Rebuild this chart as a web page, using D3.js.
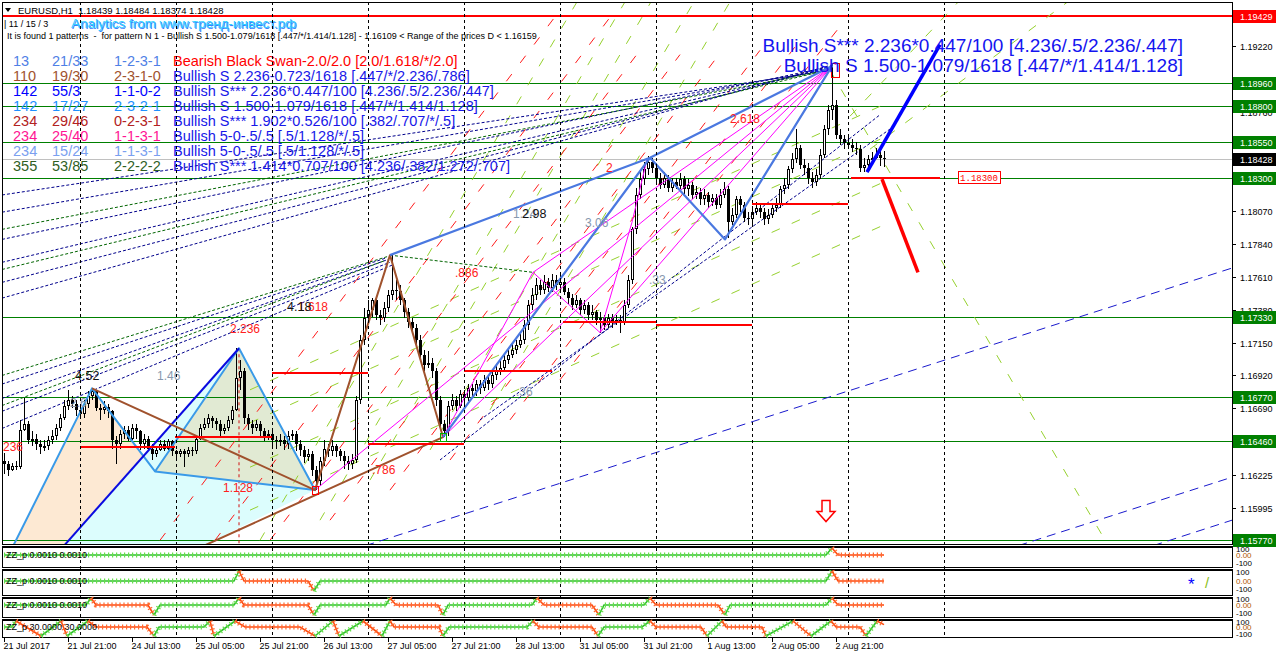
<!DOCTYPE html>
<html>
<head>
<meta charset="utf-8">
<script src="https://cdn.jsdelivr.net/npm/d3@7"></script>
<style>
  body { margin: 0; background: #fff; }
  svg { display: block; font-family: "Liberation Sans", Arial, sans-serif; }
</style>
</head>
<body>
<svg id="chart" width="1276" height="656"></svg>
<script>
// ---- candles (EURUSD H1, bar 0 = 21 Jul 05:00), open = previous close
const firstOpen = 1.1632;
const closes = [
  1.1630,1.1626,1.1629,1.1628,1.1654,1.1658,1.1647,1.1648,1.1644,1.1642,1.1643,1.1647,1.1650,1.1655,1.1662,1.1671,1.1675,1.1672,1.1668,1.1665,
  1.1672,1.1678,1.1681,1.1669,1.1668,1.1670,1.1667,1.1647,1.1644,1.1651,1.1654,1.1648,1.1655,1.1653,1.1644,1.1648,1.1641,1.1637,1.1640,1.1644,
  1.1641,1.1646,1.1639,1.1637,1.1639,1.1637,1.1640,1.1639,1.1648,1.1655,1.1658,1.1662,1.1660,1.1658,1.1653,1.1655,1.1661,1.1668,1.1690,1.1695,
  1.1662,1.1658,1.1655,1.1658,1.1653,1.1650,1.1651,1.1647,1.1646,1.1647,1.1644,1.1650,1.1651,1.1644,1.1640,1.1635,1.1637,1.1626,1.1618,1.1632,
  1.1641,1.1639,1.1643,1.1639,1.1636,1.1632,1.1630,1.1633,1.1675,1.1717,1.1732,1.1738,1.1745,1.1734,1.1732,1.1739,1.1748,1.1752,1.1751,1.1745,
  1.1736,1.1729,1.1725,1.1717,1.1706,1.1699,1.1701,1.1695,1.1675,1.1658,1.1653,1.1671,1.1675,1.1671,1.1679,1.1676,1.1683,1.1681,1.1686,1.1683,
  1.1689,1.1686,1.1692,1.1695,1.1697,1.1703,1.1706,1.1710,1.1713,1.1717,1.1727,1.1741,1.1748,1.1755,1.1752,1.1757,1.1753,1.1759,1.1755,1.1757,
  1.1750,1.1746,1.1741,1.1745,1.1738,1.1741,1.1734,1.1736,1.1731,1.1732,1.1727,1.1732,1.1729,1.1731,1.1729,1.1741,1.1759,1.1794,1.1818,1.1829,
  1.1836,1.1841,1.1837,1.1830,1.1825,1.1830,1.1823,1.1827,1.1824,1.1829,1.1822,1.1825,1.1818,1.1820,1.1815,1.1818,1.1813,1.1816,1.1811,1.1818,
  1.1822,1.1799,1.1804,1.1815,1.1811,1.1802,1.1801,1.1806,1.1809,1.1806,1.1801,1.1804,1.1809,1.1811,1.1822,1.1825,1.1836,1.1843,1.1851,1.1839,
  1.1837,1.1830,1.1827,1.1832,1.1846,1.1864,1.1877,1.1881,1.1860,1.1857,1.1854,1.1853,1.1851,1.1850,1.1837,1.1839,1.1843,1.1844,1.1846,1.18439,
  1.18428
];
const highs = [
  1.1638,1.1632,1.1631,1.1632,1.1661,1.1676,1.1660,1.1653,1.1651,1.1647,1.1647,1.1650,1.1654,1.1658,1.1665,1.1675,1.1682,1.1678,1.1675,1.1671,
  1.1675,1.1681,1.1683,1.1682,1.1672,1.1674,1.1672,1.1668,1.1650,1.1654,1.1657,1.1657,1.1658,1.1658,1.1654,1.1651,1.1650,1.1644,1.1643,1.1647,
  1.1647,1.1648,1.1647,1.1640,1.1641,1.1641,1.1642,1.1642,1.1650,1.1658,1.1662,1.1665,1.1664,1.1662,1.1661,1.1658,1.1664,1.1671,1.1711,1.1703,
  1.1697,1.1665,1.1661,1.1661,1.1660,1.1655,1.1654,1.1653,1.1650,1.1651,1.1650,1.1653,1.1654,1.1653,1.1647,1.1643,1.1641,1.1639,1.1629,1.1635,
  1.1647,1.1644,1.1647,1.1644,1.1641,1.1639,1.1636,1.1637,1.1678,1.1720,1.1739,1.1745,1.1746,1.1746,1.1738,1.1743,1.1752,1.1776,1.1759,1.1755,
  1.1746,1.1739,1.1732,1.1728,1.1720,1.1710,1.1709,1.1704,1.1697,1.1678,1.1661,1.1674,1.1679,1.1678,1.1682,1.1682,1.1686,1.1686,1.1689,1.1689,
  1.1692,1.1692,1.1696,1.1699,1.1702,1.1706,1.1710,1.1714,1.1717,1.1721,1.1731,1.1745,1.1753,1.1760,1.1759,1.1762,1.1760,1.1763,1.1762,1.1762,
  1.1760,1.1753,1.1749,1.1748,1.1746,1.1745,1.1743,1.1741,1.1738,1.1736,1.1734,1.1735,1.1735,1.1734,1.1734,1.1745,1.1762,1.1796,1.1823,1.1834,
  1.1841,1.1845,1.1844,1.1840,1.1833,1.1834,1.1832,1.1830,1.1830,1.1833,1.1831,1.1829,1.1827,1.1824,1.1823,1.1822,1.1820,1.1819,1.1819,1.1822,
  1.1827,1.1824,1.1809,1.1817,1.1817,1.1813,1.1806,1.1810,1.1813,1.1811,1.1809,1.1808,1.1811,1.1816,1.1824,1.1830,1.1838,1.1847,1.1864,1.1853,
  1.1843,1.1840,1.1834,1.1836,1.1850,1.1867,1.1881,1.1909,1.1884,1.1864,1.1860,1.1859,1.1857,1.1855,1.1853,1.1844,1.1846,1.1848,1.1851,1.1850,
  1.18484
];
const lows = [
  1.1623,1.1622,1.1625,1.1626,1.1627,1.1653,1.1644,1.1643,1.1640,1.1637,1.1639,1.1640,1.1644,1.1647,1.1653,1.1661,1.1668,1.1669,1.1664,1.1662,
  1.1662,1.1669,1.1675,1.1667,1.1661,1.1665,1.1662,1.1641,1.1630,1.1641,1.1648,1.1646,1.1647,1.1648,1.1640,1.1641,1.1639,1.1633,1.1635,1.1639,
  1.1639,1.1640,1.1636,1.1633,1.1635,1.1628,1.1635,1.1636,1.1637,1.1647,1.1654,1.1655,1.1655,1.1654,1.1650,1.1651,1.1653,1.1658,1.1667,1.1682,
  1.1658,1.1654,1.1651,1.1653,1.1650,1.1646,1.1647,1.1643,1.1641,1.1643,1.1640,1.1641,1.1647,1.1639,1.1636,1.1631,1.1632,1.1622,1.1612,1.1615,
  1.1629,1.1635,1.1636,1.1635,1.1632,1.1627,1.1626,1.1627,1.1631,1.1672,1.1713,1.1729,1.1733,1.1731,1.1727,1.1729,1.1736,1.1745,1.1745,1.1741,
  1.1732,1.1725,1.1721,1.1713,1.1703,1.1695,1.1697,1.1690,1.1671,1.1654,1.1649,1.1650,1.1668,1.1667,1.1669,1.1672,1.1674,1.1676,1.1678,1.1679,
  1.1681,1.1682,1.1683,1.1689,1.1692,1.1695,1.1700,1.1704,1.1707,1.1711,1.1714,1.1724,1.1738,1.1745,1.1748,1.1749,1.1750,1.1750,1.1752,1.1752,
  1.1748,1.1742,1.1738,1.1739,1.1734,1.1735,1.1731,1.1731,1.1727,1.1722,1.1724,1.1725,1.1725,1.1727,1.1722,1.1727,1.1739,1.1756,1.1791,1.1815,
  1.1825,1.1832,1.1833,1.1826,1.1822,1.1823,1.1820,1.1820,1.1822,1.1822,1.1819,1.1817,1.1815,1.1815,1.1811,1.1811,1.1809,1.1810,1.1808,1.1809,
  1.1816,1.1788,1.1797,1.1802,1.1806,1.1799,1.1797,1.1798,1.1804,1.1802,1.1797,1.1798,1.1802,1.1806,1.1809,1.1819,1.1822,1.1833,1.1840,1.1836,
  1.1832,1.1826,1.1823,1.1824,1.1829,1.1844,1.1860,1.1870,1.1857,1.1853,1.1850,1.1850,1.1848,1.1846,1.1834,1.1834,1.1837,1.1840,1.1843,1.1838,
  1.18374
];

// ---- axes
const priceTicks = [1.19220,1.18990,1.18760,1.18530,1.18300,1.18070,1.17840,1.17610,1.17380,1.17150,1.16920,1.16690,1.16460,1.16225,1.15995];
const timeTickBars = [0,16,32,48,64,80,96,112,128,144,160,176,192,208];
const timeTickLabels = ["21 Jul 2017","21 Jul 21:00","24 Jul 13:00","25 Jul 05:00","25 Jul 21:00","26 Jul 13:00","27 Jul 05:00",
  "27 Jul 21:00","28 Jul 13:00","31 Jul 05:00","31 Jul 21:00","1 Aug 13:00","2 Aug 05:00","2 Aug 21:00"];
const daySeparatorBars = [19,43,67,91,115,139,163,187,211,235];

// ---- horizontal levels
const redLevels = [1.19429];
const greenLevels = [1.18960,1.18800,1.18550,1.18300,1.17330,1.16770,1.16460,1.15770];
const bidPrice = 1.18428;

// ---- pattern objects, points as [bar, price]
const beigeFill = [[1.75,1.1570],[22,1.1683],[37.75,1.1625],[14,1.1570]];
const cyanFill = [[14,1.1570],[58.75,1.1711],[77.75,1.1612],[47.5,1.1570]];
const greenFill = [[37.75,1.1625],[58.75,1.1711],[77.75,1.1612]];
const sharkLeg = [[1.75,1.1570],[22,1.1683],[37.75,1.1625],[58.75,1.1711],[77.75,1.1612],[37.75,1.1625]];
const darkBlueLeg = [[14,1.1570],[58.75,1.1711]];
const brownLeg = [[22,1.1683],[77.75,1.1612],[96.5,1.1776],[109.75,1.1649],[47.5,1.1570]];
const royalLeg = [[96.5,1.1776],[161.5,1.1844],[207,1.1908],[180.25,1.1787],[161.5,1.1844],[109.75,1.1649]];
const magentaZig = [[109.75,1.1649],[132.25,1.1764],[149,1.1722],[157,1.1799],[160.75,1.1843]];
const magentaFan = [
  [[77.75,1.1612],[207,1.1908]], [[109.75,1.1649],[207,1.1908]],
  [[132.25,1.1764],[207,1.1908]], [[149,1.1722],[207,1.1908]]
];
const projectionUp = [[215.75,1.1834],[234,1.1923]];
const projectionDown = [[219.5,1.1829],[228.5,1.1764]];
// [fromBar, toBar, price]
const redSegments = [[19,42.75,1.1642],[42.75,67,1.1649],[67,91,1.1694],[91,115,1.1644],[115,137,1.1695],
  [139.75,163,1.1729],[163,187,1.1727],[187,211,1.1812],[211.75,234,1.1830]];
const redVertical = [[58.75,1.1711],[58.75,1.1570]];

const navyDashed = [
  [[-0.5,1.1818],[204,1.1904]], [[-0.5,1.1806],[205,1.1905]], [[-0.5,1.1787],[205.5,1.1907]],
  [[-0.5,1.1771],[206.5,1.1907]], [[-0.5,1.1757],[207.5,1.1908]], [[-0.5,1.1746],[208.5,1.1910]],
  [[-0.5,1.1686],[95.5,1.1774]], [[-0.5,1.1676],[96,1.1773]], [[-0.5,1.1667],[96.5,1.1771]], [[-0.5,1.1655],[97,1.1769]],
  [[109,1.1633],[219,1.1874]], [[119,1.1661],[221.5,1.1864]]
];
const darkGreenDashed = [
  [[-0.5,1.1794],[206,1.1905]], [[-0.5,1.1766],[207,1.1906]],
  [[-0.5,1.1692],[97,1.1776]], [[-0.5,1.1671],[95,1.1772]],
  [[96.5,1.1776],[132.25,1.1764]]
];
const channelDashed = [
  [[86.75,1.1570],[307,1.1767]], [[250,1.1570],[307,1.1621]], [[283.75,1.1570],[307,1.1591]]
];
const redDashed = [
  [[39,1.1577],[139,1.1947]], [[52.75,1.1577],[151.5,1.1942]], [[66.5,1.1577],[159,1.1919]],
  [[81.5,1.1591],[169,1.1916]], [[96.5,1.1612],[179,1.1917]], [[111.5,1.1633],[189,1.1919]],
  [[126.5,1.1661],[199,1.1926]], [[139,1.1689],[210.25,1.1940]]
];
const limeDashed = [
  [[64,1.1577],[143.5,1.1954]], [[79,1.1591],[155.5,1.1954]], [[91.5,1.1619],[162,1.1954]],
  [[106.5,1.1640],[172.75,1.1954]], [[121.5,1.1668],[181.75,1.1954]],
  [[61.5,1.1682],[221.5,1.1883]], [[61.5,1.1659],[221.5,1.1860]], [[61.5,1.1628],[221.5,1.1829]], [[61.5,1.1598],[221.5,1.1799]],
  [[206.5,1.1905],[276.75,1.1570]], [[211.5,1.1873],[239,1.1954]], [[216.5,1.1850],[266.5,1.1954]]
];

// on-chart ratio labels [bar, price, text]
const blackLabels = [[17.75,1.1692,"4.52"],[129.5,1.1805,"2.98"]];
const grayLabels = [[38.25,1.1692,"1.46"],[16.5,1.1673,"2.6"],[127.25,1.1805,"1.24"],[145.25,1.1799,"3.06"],[161.25,1.1759,".33"],[128,1.1681,".36"]];
const redLabels = [[56.5,1.1725,"2.236"],[73.5,1.1740,"1.618"],[54.75,1.1614,"1.128"],[92,1.1626,".786"],[112.75,1.1764,".886"],
  [150.5,1.1837,"2"],[181.5,1.1871,"2.618"],[-0.25,1.1642,"236"]];
const blackLabelsTop = [[70.75,1.1740,"4.18"]];
const markerBoxesRed = [[207.75,1.1905],[77.75,1.1612]];
const markerBoxesGreen = [[109.75,1.1649]];
const priceTag = [238.5,1.1830,"1.18300"];
const signalArrow = [205.5,1.1597];

// ---- pattern table
const tableRows = [
  ["13","21/33","1-2-3-1","Bearish Black Swan-2.0/2.0 [2.0/1.618/*/2.0]"],
  ["110","19/30","2-3-1-0","Bullish S 2.236-0.723/1618 [.447/*/2.236/.786]"],
  ["142","55/3","1-1-0-2","Bullish S*** 2.236*0.447/100 [4.236/.5/2.236/.447]"],
  ["142","17/27","2-3-2-1","Bullish S 1.500-1.079/1618 [.447/*/1.414/1.128]"],
  ["234","29/46","0-2-3-1","Bullish S*** 1.902*0.526/100 [.382/.707/*/.5]"],
  ["234","25/40","1-1-3-1","Bullish 5-0-.5/.5 [.5/1.128/*/.5]"],
  ["234","15/24","1-1-3-1","Bullish 5-0-.5/.5 [.5/1.128/*/.5]"],
  ["355","53/85","2-2-2-2","Bullish S*** 1.414*0.707/100 [4.236/.382/1.272/.707]"]
];
const rowColors = ["#4f7fe6","#a0522d","#0000ff","#1e90ff","#b22222","#ff1493","#7b9ff0","#2f5f1f"];
const bigTitles = ["Bullish S*** 2.236*0.447/100 [4.236/.5/2.236/.447]","Bullish S 1.500-1.079/1618 [.447/*/1.414/1.128]"];

// ---- ZZ_p indicator panels: [bar, value] turning points
const zzLabels = ["ZZ_p 0.0010 0.0010","ZZ_p 0.0010 0.0010","ZZ_p 0.0010 0.0010","ZZ_p 30.0000 30.0000"];
const zz1 = [[0,0],[205.5,0],[207,100],[208.5,0],[220,0]];
const zz2 = [[0,0],[57.5,0],[58.75,100],[60,0],[76,0],[77.5,-100],[79,0],[205.5,0],[207,100],[208.5,0],[220,0]];
const zz3 = [[0,0],[20.5,0],[21.75,100],[23,0],[36,0],[37.5,-100],[39,0],[57.5,0],[58.75,100],[60,0],[76,0],[77.5,-100],[79,0],
  [95.5,0],[96.5,100],[98,0],[108.5,0],[109.75,-100],[111,0],[132,0],[133.25,100],[135,0],[147,0],[148.75,-100],[150,0],
  [160,0],[161.5,100],[163,0],[178.5,0],[180.25,-100],[181.5,0],[205.5,0],[207,100],[208.5,0],[220,0]];
const zz4 = [[0,0],[2,0],[3,100],[9.25,-100],[14.25,100],[15.75,-100],[21,100],[23,0],[35.75,0],[37.5,-100],[38.75,0],[50,0],
  [51.5,100],[52.5,-100],[57.75,100],[60.25,0],[74,0],[77.75,-100],[82.25,100],[83.75,-100],[89.75,100],[94.5,-100],[96.5,100],
  [97.5,0],[108.75,0],[109.75,-100],[111.25,0],[130.75,0],[132.25,100],[133.75,0],[147,0],[148.5,-100],[150,0],[159.5,0],
  [161.5,100],[163,0],[174.25,0],[175.75,-100],[179.5,100],[180.5,0],[189.5,0],[190.5,-100],[197.25,100],[201.75,-100],
  [206.75,100],[208,0],[214,0],[215.5,-100],[218.25,100],[220,40]];

// =====================================================================
const svg = d3.select("#chart");
const plot = { left: 2, right: 1232, top: 2, bottom: 544 };
const x = d3.scaleLinear().domain([0, 1]).range([4, 8]);
const y = d3.scaleLinear().domain([1.15995, 1.19220]).range([508, 46]);
const line = d3.line().x((d) => x(d[0])).y((d) => y(d[1]));

svg.append("rect").attr("width", 1276).attr("height", 656).attr("fill", "#fff");
svg.append("clipPath").attr("id", "main-clip")
  .append("rect").attr("x", plot.left).attr("y", plot.top).attr("width", plot.right - plot.left).attr("height", plot.bottom - plot.top);

const main = svg.append("g").attr("clip-path", "url(#main-clip)");

// fills
[[beigeFill, "#fde9d3"], [cyanFill, "#dcfdfd"], [greenFill, "#e1ead3"]].forEach(([pts, c]) => {
  main.append("path").attr("d", line(pts) + "Z").attr("fill", c);
});

// header texts
const hdr = svg.append("g");
hdr.append("path").attr("d", "M5,8 L11,8 L8,12 Z").attr("fill", "#000");
hdr.append("text").attr("x", 18).attr("y", 14).attr("font-size", 9.5).attr("fill", "#000")
  .text("EURUSD,H1\u00a0\u00a01.18439 1.18484 1.18374 1.18428");
hdr.append("text").attr("x", 4).attr("y", 27).attr("font-size", 9).attr("fill", "#000").text("| 11 / 15 / 3");
hdr.append("text").attr("x", 72).attr("y", 29).attr("font-size", 13.5).attr("fill", "#3d7dff").text("Analytics from www.тренд-инвест.рф");
hdr.append("text").attr("x", 71).attr("y", 28).attr("font-size", 13.5).attr("fill", "#2fd2ff").text("Analytics from www.тренд-инвест.рф");
hdr.append("text").attr("x", 7).attr("y", 39).attr("font-size", 9).attr("fill", "#000")
  .text("It is found 1 patterns\u00a0 -\u00a0 for pattern N 1 - Bullish S 1.500-1.079/1618 [.447/*/1.414/1.128] - 1.16109 < Range of the prices D < 1.16159");

const colX = [13, 52, 114, 173];
tableRows.forEach((row, r) => {
  row.forEach((t, c) => {
    hdr.append("text").attr("x", colX[c]).attr("y", 61 + r * 15).attr("dy", "0.36em")
      .attr("font-size", 14.5)
      .attr("fill", c < 3 ? rowColors[r] : (r === 0 ? "#ff0000" : "#1717e8"))
      .text(t);
  });
});
bigTitles.forEach((t, k) => {
  hdr.append("text").attr("x", 1183).attr("y", 45 + k * 20).attr("dy", "0.36em").attr("text-anchor", "end")
    .attr("font-size", 19).attr("fill", "#1414f0").text(t);
});

// day separators (main + panels)
daySeparatorBars.forEach((b) => {
  svg.append("line").attr("x1", Math.round(x(b)) + 0.5).attr("x2", Math.round(x(b)) + 0.5)
    .attr("y1", plot.top).attr("y2", 637).attr("stroke", "#000").attr("stroke-dasharray", "3,3")
    .attr("shape-rendering", "crispEdges");
});

// levels
greenLevels.forEach((p) => {
  main.append("line").attr("x1", plot.left).attr("x2", plot.right).attr("y1", Math.round(y(p)) + 0.5).attr("y2", Math.round(y(p)) + 0.5)
    .attr("stroke", "#008000").attr("shape-rendering", "crispEdges");
});
main.append("line").attr("x1", plot.left).attr("x2", plot.right).attr("y1", Math.round(y(bidPrice)) + 0.5).attr("y2", Math.round(y(bidPrice)) + 0.5)
  .attr("stroke", "#c0c0c0").attr("shape-rendering", "crispEdges");
redLevels.forEach((p) => {
  main.append("line").attr("x1", plot.left).attr("x2", plot.right).attr("y1", Math.round(y(p))).attr("y2", Math.round(y(p)))
    .attr("stroke", "#ff0000").attr("stroke-width", 2).attr("shape-rendering", "crispEdges");
});

// dashed studies
function dashed(set, color, dash, width) {
  set.forEach((seg) => {
    main.append("path").attr("d", line(seg)).attr("fill", "none").attr("stroke", color)
      .attr("stroke-width", width).attr("stroke-dasharray", dash);
  });
}
dashed(limeDashed, "#96d12e", "9,13", 1);
dashed(redDashed, "#ff1a1a", "9,14", 1);
dashed(navyDashed, "#00008b", "3,2", 1);
dashed(darkGreenDashed, "#006400", "3,2", 1);
dashed(channelDashed, "#1a1acd", "9,6", 1);
dashed([redVertical], "#d01010", "3,3", 1);

// candles
const candles = main.append("g").attr("shape-rendering", "crispEdges");
closes.forEach((c, i) => {
  const o = i === 0 ? firstOpen : closes[i - 1];
  const X = Math.round(x(i));
  candles.append("line").attr("x1", X + 0.5).attr("x2", X + 0.5).attr("y1", y(highs[i])).attr("y2", y(lows[i])).attr("stroke", "#000");
  const top = Math.round(y(Math.max(o, c)));
  const bot = Math.round(y(Math.min(o, c)));
  if (bot - top < 1) {
    candles.append("line").attr("x1", X - 1).attr("x2", X + 2).attr("y1", top + 0.5).attr("y2", top + 0.5).attr("stroke", "#000");
  } else if (c > o) {
    candles.append("rect").attr("x", X - 0.5).attr("y", top + 0.5).attr("width", 2).attr("height", bot - top - 1 > 0 ? bot - top - 1 : 0.5)
      .attr("fill", "#fff").attr("stroke", "#000");
  } else {
    candles.append("rect").attr("x", X - 1).attr("y", top).attr("width", 3).attr("height", bot - top).attr("fill", "#000");
  }
});

// pattern legs
function solid(pts, color, width) {
  main.append("path").attr("d", line(pts)).attr("fill", "none").attr("stroke", color)
    .attr("stroke-width", width).attr("stroke-linejoin", "round");
}
magentaFan.forEach((s) => solid(s, "#ff00ff", 1));
solid(magentaZig, "#ff00ff", 1);
solid(sharkLeg, "#3a9ae8", 2);
solid(darkBlueLeg, "#0a0ae0", 2);
solid(brownLeg, "#a0522d", 2);
solid(royalLeg, "#4a78e0", 2.2);
solid(projectionUp, "#0000ff", 3.5);
solid(projectionDown, "#ff0000", 3.5);

redSegments.forEach(([b0, b1, p]) => {
  main.append("line").attr("x1", x(b0)).attr("x2", x(b1)).attr("y1", Math.round(y(p))).attr("y2", Math.round(y(p)))
    .attr("stroke", "#ff0000").attr("stroke-width", 2.5).attr("shape-rendering", "crispEdges");
});

// markers
markerBoxesRed.forEach(([b, p], k) => {
  const w = k === 0 ? 8 : 6, h = k === 0 ? 14 : 8;
  main.append("rect").attr("x", Math.round(x(b) - w / 2) + 0.5).attr("y", Math.round(y(p) - h / 2) + 0.5)
    .attr("width", w).attr("height", h).attr("fill", "none").attr("stroke", "#ff0000");
});
markerBoxesGreen.forEach(([b, p]) => {
  main.append("rect").attr("x", Math.round(x(b) - 3) + 0.5).attr("y", Math.round(y(p) - 4) + 0.5)
    .attr("width", 6).attr("height", 8).attr("fill", "none").attr("stroke", "#00b000");
});
function labels(set, color, size) {
  set.forEach(([b, p, t]) => {
    main.append("text").attr("x", x(b)).attr("y", y(p)).attr("dy", "0.36em").attr("font-size", size).attr("fill", color).text(t);
  });
}
labels(grayLabels, "#8798ae", 12);
labels(redLabels, "#ff2020", 12);
labels(blackLabels, "#111", 12.5);
labels(blackLabelsTop, "#111", 12.5);

// price tag box
{
  const [b, p, t] = priceTag;
  const X = Math.round(x(b)), Y = Math.round(y(p));
  main.append("rect").attr("x", X + 0.5).attr("y", Y - 6.5).attr("width", 42).attr("height", 12)
    .attr("fill", "#fff").attr("stroke", "#ff0000");
  main.append("text").attr("x", X + 21).attr("y", Y).attr("dy", "0.36em").attr("text-anchor", "middle")
    .attr("font-size", 9).attr("font-family", "'Liberation Mono', monospace").attr("fill", "#ff0000").text(t);
}
// signal arrow
{
  const X = x(signalArrow[0]), Y = y(signalArrow[1]);
  main.append("path")
    .attr("d", `M${X - 4},${Y - 11} L${X + 4},${Y - 11} L${X + 4},${Y} L${X + 9},${Y} L${X},${Y + 10} L${X - 9},${Y} L${X - 4},${Y} Z`)
    .attr("fill", "#fff").attr("stroke", "#ff0000").attr("stroke-width", 1.5);
}

// ---- frame and right price scale
svg.append("rect").attr("x", plot.left + 0.5).attr("y", plot.top + 0.5).attr("width", plot.right - plot.left)
  .attr("height", plot.bottom - plot.top).attr("fill", "none").attr("stroke", "#000").attr("shape-rendering", "crispEdges");
const axisG = svg.append("g").attr("font-size", 9).attr("shape-rendering", "crispEdges");
priceTicks.forEach((p) => {
  const Y = Math.round(y(p)) + 0.5;
  axisG.append("line").attr("x1", plot.right).attr("x2", plot.right + 4).attr("y1", Y).attr("y2", Y).attr("stroke", "#000");
  axisG.append("text").attr("x", 1240).attr("y", Y).attr("dy", "0.36em").attr("fill", "#000").text(p.toFixed(5));
});
function tag(p, fill) {
  const Y = Math.round(y(p));
  axisG.append("rect").attr("x", plot.right + 1).attr("y", Y - 6).attr("width", 43).attr("height", 13).attr("fill", fill);
  axisG.append("text").attr("x", 1240).attr("y", Y + 0.5).attr("dy", "0.36em").attr("fill", "#fff").text(p.toFixed(5));
}
greenLevels.forEach((p) => tag(p, "#008000"));
tag(bidPrice, "#000");
redLevels.forEach((p) => tag(p, "#ff0000"));

// ---- indicator panels
const panels = [
  { top: 546, bottom: 567, hi: 548, mid: 555, lo: 565, data: zz1 },
  { top: 569, bottom: 595, hi: 571, mid: 581, lo: 591, data: zz2 },
  { top: 597, bottom: 617, hi: 598, mid: 605, lo: 615, data: zz3 },
  { top: 619, bottom: 637, hi: 621, mid: 627, lo: 636, data: zz4 }
];
panels.forEach((pn, k) => {
  const g = svg.append("g");
  g.append("rect").attr("x", plot.left + 0.5).attr("y", pn.top + 0.5).attr("width", plot.right - plot.left)
    .attr("height", pn.bottom - pn.top).attr("fill", "none").attr("stroke", "#000").attr("shape-rendering", "crispEdges");
  g.append("line").attr("x1", plot.left).attr("x2", plot.right).attr("y1", pn.top + 1.5).attr("y2", pn.top + 1.5)
    .attr("stroke", "#000").attr("shape-rendering", "crispEdges");
  const yz = d3.scaleLinear().domain([-100, 0, 100]).range([pn.lo, pn.mid, pn.hi]);
  const zl = d3.line().x((d) => x(d[0])).y((d) => yz(d[1]));
  // split runs: rising into a top is green, falling after it is red
  const runs = [];
  let state = "g", cur = [pn.data[0]];
  for (let i = 1; i < pn.data.length; i++) {
    cur.push(pn.data[i]);
    const v = pn.data[i][1];
    const next = v === 100 ? "r" : v === -100 ? "g" : state;
    if (next !== state) { runs.push([state, cur]); cur = [pn.data[i]]; state = next; }
  }
  runs.push([state, cur]);
  runs.forEach(([s, pts]) => {
    const c1 = s === "g" ? "#2fbf2f" : "#ff4a10";
    const c2 = s === "g" ? "#66e04a" : "#ff6a30";
    g.append("path").attr("d", zl(pts)).attr("fill", "none").attr("stroke", c1).attr("stroke-width", 1.6);
    g.append("path").attr("d", zl(pts)).attr("fill", "none").attr("stroke", c2).attr("stroke-width", 5).attr("stroke-dasharray", "1.2,2.8");
  });
  g.append("text").attr("x", 6).attr("y", pn.mid).attr("dy", "0.36em").attr("font-size", 9).attr("fill", "#000").text(zzLabels[k]);
  const sg = g.append("g").attr("font-size", 8).attr("fill", "#000");
  sg.append("text").attr("x", 1236).attr("y", pn.hi + 4).text("100");
  sg.append("text").attr("x", 1236).attr("y", pn.mid + 3).attr("fill", "#b05a00").text("0.00");
  sg.append("text").attr("x", 1236).attr("y", pn.lo + 1).text("-100");
});
svg.append("text").attr("x", 1188).attr("y", 590).attr("font-size", 17).attr("fill", "#0000ff").text("*");
svg.append("text").attr("x", 1205).attr("y", 588).attr("font-size", 15).attr("fill", "#8cc020").text("/");

// ---- time axis
timeTickBars.forEach((b, k) => {
  const X = Math.round(x(b)) + 0.5;
  svg.append("line").attr("x1", X).attr("x2", X).attr("y1", 637).attr("y2", 642).attr("stroke", "#000").attr("shape-rendering", "crispEdges");
  svg.append("text").attr("x", X - 1).attr("y", 649).attr("font-size", 9).attr("fill", "#000").text(timeTickLabels[k]);
});
</script>
</body>
</html>
